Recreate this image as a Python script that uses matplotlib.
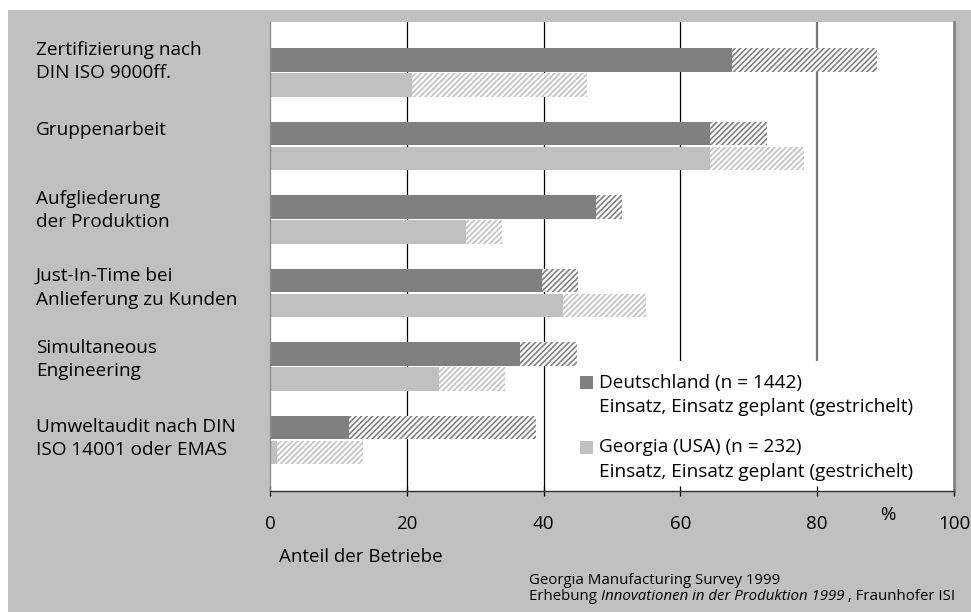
import matplotlib
matplotlib.use('Agg')
import matplotlib.pyplot as plt
from matplotlib.patches import Rectangle
import matplotlib.transforms as mtransforms
import numpy as np

plt.rcParams['font.family'] = ['Open Sans', 'DejaVu Sans']
plt.rcParams['hatch.linewidth'] = 1.2

# data (percent of firms)
kategorien = [
    'Zertifizierung nach\nDIN ISO 9000ff.',
    'Gruppenarbeit',
    'Aufgliederung\nder Produktion',
    'Just-In-Time bei\nAnlieferung zu Kunden',
    'Simultaneous\nEngineering',
    'Umweltaudit nach DIN\nISO 14001 oder EMAS',
]
de_einsatz = [67.6, 64.3, 47.7, 39.7, 36.5, 11.6]
de_geplant = [21.2, 8.3, 3.8, 5.3, 8.4, 27.3]
ga_einsatz = [20.7, 64.4, 28.6, 42.9, 24.7, 1.0]
ga_geplant = [25.6, 13.6, 5.3, 12.1, 9.7, 12.6]
x_ticks = [0, 20, 40, 60, 80, 100]

DUNKEL = '#808080'
HELL = '#c0c0c0'
W, H = 971, 612

# small helper: pixel -> figure coords
def fx(px):
    return px / W

def fy(py):
    return 1 - py / H

fig = plt.figure(figsize=(W / 100, H / 100), dpi=100)
fig.patch.set_facecolor('white')
fig.add_artist(Rectangle((fx(8), 0), 1 - fx(8), fy(10), transform=fig.transFigure,
                         facecolor=HELL, edgecolor='none', zorder=0))

ax = fig.add_axes([fx(270), fy(491), (954 - 270) / W, (491 - 22) / H])
ax.set_facecolor('white')

y = np.arange(len(kategorien))
h = 0.32
off = 0.168

ax.barh(y - off, de_einsatz, height=h, color=DUNKEL, linewidth=0, zorder=1)
ax.barh(y - off, de_geplant, left=de_einsatz, height=h, facecolor='white',
        edgecolor=DUNKEL, hatch='//////', linewidth=0, zorder=1)
ax.barh(y + off, ga_einsatz, height=h, color=HELL, linewidth=0, zorder=1)
ax.barh(y + off, ga_geplant, left=ga_einsatz, height=h, facecolor='white',
        edgecolor=HELL, hatch='//////', linewidth=0, zorder=1)

ax.set_xlim(0, 100)
ax.set_ylim(5 + 51 / 73.5, -50.5 / 73.5)

# gridlines
for t in x_ticks[1:-1]:
    if t == 80:
        ax.axvline(t, color='#7a7a7a', linewidth=1.6, zorder=0.3)
    else:
        ax.axvline(t, color='black', linewidth=0.9, zorder=0.3)

ax.set_yticks([])
ax.set_xticks(x_ticks)
ax.set_xticklabels([str(t) for t in x_ticks], fontsize=13.5)
ax.tick_params(axis='x', direction='inout', length=7, width=0.9, pad=14, colors='black')

ax.spines['top'].set_visible(False)
ax.spines['left'].set_color('#909090')
ax.spines['left'].set_linewidth(1)
ax.spines['bottom'].set_color('#303030')
ax.spines['bottom'].set_linewidth(1)
ax.spines['right'].set_color('#7a7a7a')
ax.spines['right'].set_linewidth(1.8)

# category labels at the left
trans = mtransforms.blended_transform_factory(fig.transFigure, ax.transData)
label_shift = [-0.15, -0.22, -0.12, -0.07, -0.095, -0.02]
for i, lab in enumerate(kategorien):
    ax.text(fx(36), y[i] + label_shift[i], lab, transform=trans, ha='left', va='center',
            fontsize=13.7, linespacing=1.4)

# legend box
ax.add_patch(Rectangle(((560 - 270) / 684, 0), (954 - 560) / 684, (491 - 361) / 469,
                       transform=ax.transAxes, facecolor='white', edgecolor='none', zorder=0.6))
fig.add_artist(Rectangle((fx(580), fy(389)), 13 / W, 13 / H, transform=fig.transFigure,
                         facecolor=DUNKEL, edgecolor='none', zorder=5))
fig.add_artist(Rectangle((fx(580), fy(454)), 13 / W, 13 / H, transform=fig.transFigure,
                         facecolor=HELL, edgecolor='none', zorder=5))
fig.text(fx(599), fy(383), 'Deutschland (n = 1442)', fontsize=13.7, va='center', zorder=5)
fig.text(fx(599), fy(407), 'Einsatz, Einsatz geplant (gestrichelt)', fontsize=13.7, va='center', zorder=5)
fig.text(fx(599), fy(447), 'Georgia (USA) (n = 232)', fontsize=13.7, va='center', zorder=5)
fig.text(fx(599), fy(472), 'Einsatz, Einsatz geplant (gestrichelt)', fontsize=13.7, va='center', zorder=5)

# axis annotations
fig.text(fx(888), fy(515), '%', fontsize=13.5, ha='center', va='center')
fig.text(fx(279), fy(557), 'Anteil der Betriebe', fontsize=13.5, va='center')

# source
fig.text(fx(529), fy(580), 'Georgia Manufacturing Survey 1999', fontsize=10.8, va='center')
t1 = fig.text(fx(529), fy(597), 'Erhebung ', fontsize=10.8, va='center')
t2 = ax.annotate('Innovationen in der Produktion 1999', xy=(1, 0), xycoords=t1,
                 va='bottom', ha='left', fontsize=10.8, style='italic', annotation_clip=False)
ax.annotate(' , Fraunhofer ISI', xy=(1, 0), xycoords=t2, va='bottom', ha='left',
            fontsize=10.8, annotation_clip=False)

fig.savefig('out.png', dpi=100)
